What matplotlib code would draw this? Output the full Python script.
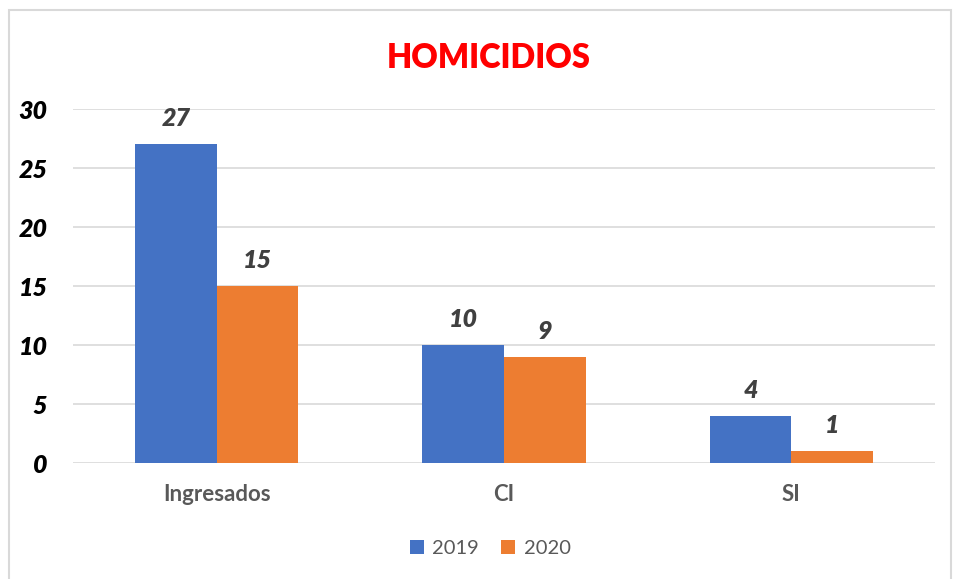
import numpy as np
import matplotlib.pyplot as plt
from matplotlib.patches import Rectangle

categories = ['Ingresados', 'CI', 'SI']
years = ['2019', '2020']
values_2019 = [27, 10, 4]
values_2020 = [15, 9, 1]

plt.rcParams['font.family'] = ['Lato', 'DejaVu Sans']

fig = plt.figure(figsize=(9.56, 5.79), dpi=100)
ax = fig.add_axes([0.0764, 0.2003, 0.9016, 0.6114])

x = np.arange(len(categories))
w = 0.284
b1 = ax.bar(x - w / 2, values_2019, w, color='#4472c4', label=years[0], zorder=3)
b2 = ax.bar(x + w / 2, values_2020, w, color='#ed7d31', label=years[1], zorder=3)

for bars in (b1, b2):
    for rect in bars:
        h = rect.get_height()
        ax.annotate(f'{h:g}', (rect.get_x() + rect.get_width() / 2, h),
                    xytext=(0, 18.5), textcoords='offset points', ha='center', va='center',
                    fontsize=18, fontweight='heavy', fontstyle='italic', color='#404040')

ax.set_xlim(-0.5, 2.5)
ax.set_ylim(0, 30)
ax.set_yticks(range(0, 31, 5))
ax.yaxis.grid(True, color='#d9d9d9', linewidth=1.2, zorder=0)
ax.set_axisbelow(True)
for s in ax.spines.values():
    s.set_visible(False)
ax.tick_params(length=0)
ax.tick_params(axis='y', pad=18.5)
ax.tick_params(axis='x', pad=15)
ax.set_xticks(x)
ax.set_xticklabels(categories, fontsize=16, fontweight='bold', color='#595959')
for t in ax.get_yticklabels():
    t.set_fontsize(18)
    t.set_fontweight('heavy')
    t.set_fontstyle('italic')
    t.set_color('black')

fig.text(0.511, 0.9, 'HOMICIDIOS', ha='center', va='center', fontsize=23.5,
         fontweight='heavy', color='#ff0000')

leg = fig.legend(loc='center', bbox_to_anchor=(0.513, 0.053), ncol=2, frameon=False,
                 fontsize=14.5, handlelength=0.7, handleheight=0.7, columnspacing=1.1,
                 handletextpad=0.4)
for t in leg.get_texts():
    t.set_color('#595959')

fig.patches.append(Rectangle((9 / 956, -0.01), 942 / 956, 1 - 10 / 579 + 0.01,
                             transform=fig.transFigure, fill=False,
                             edgecolor='#d9d9d9', linewidth=1.5))

fig.savefig('out.png', dpi=100)
